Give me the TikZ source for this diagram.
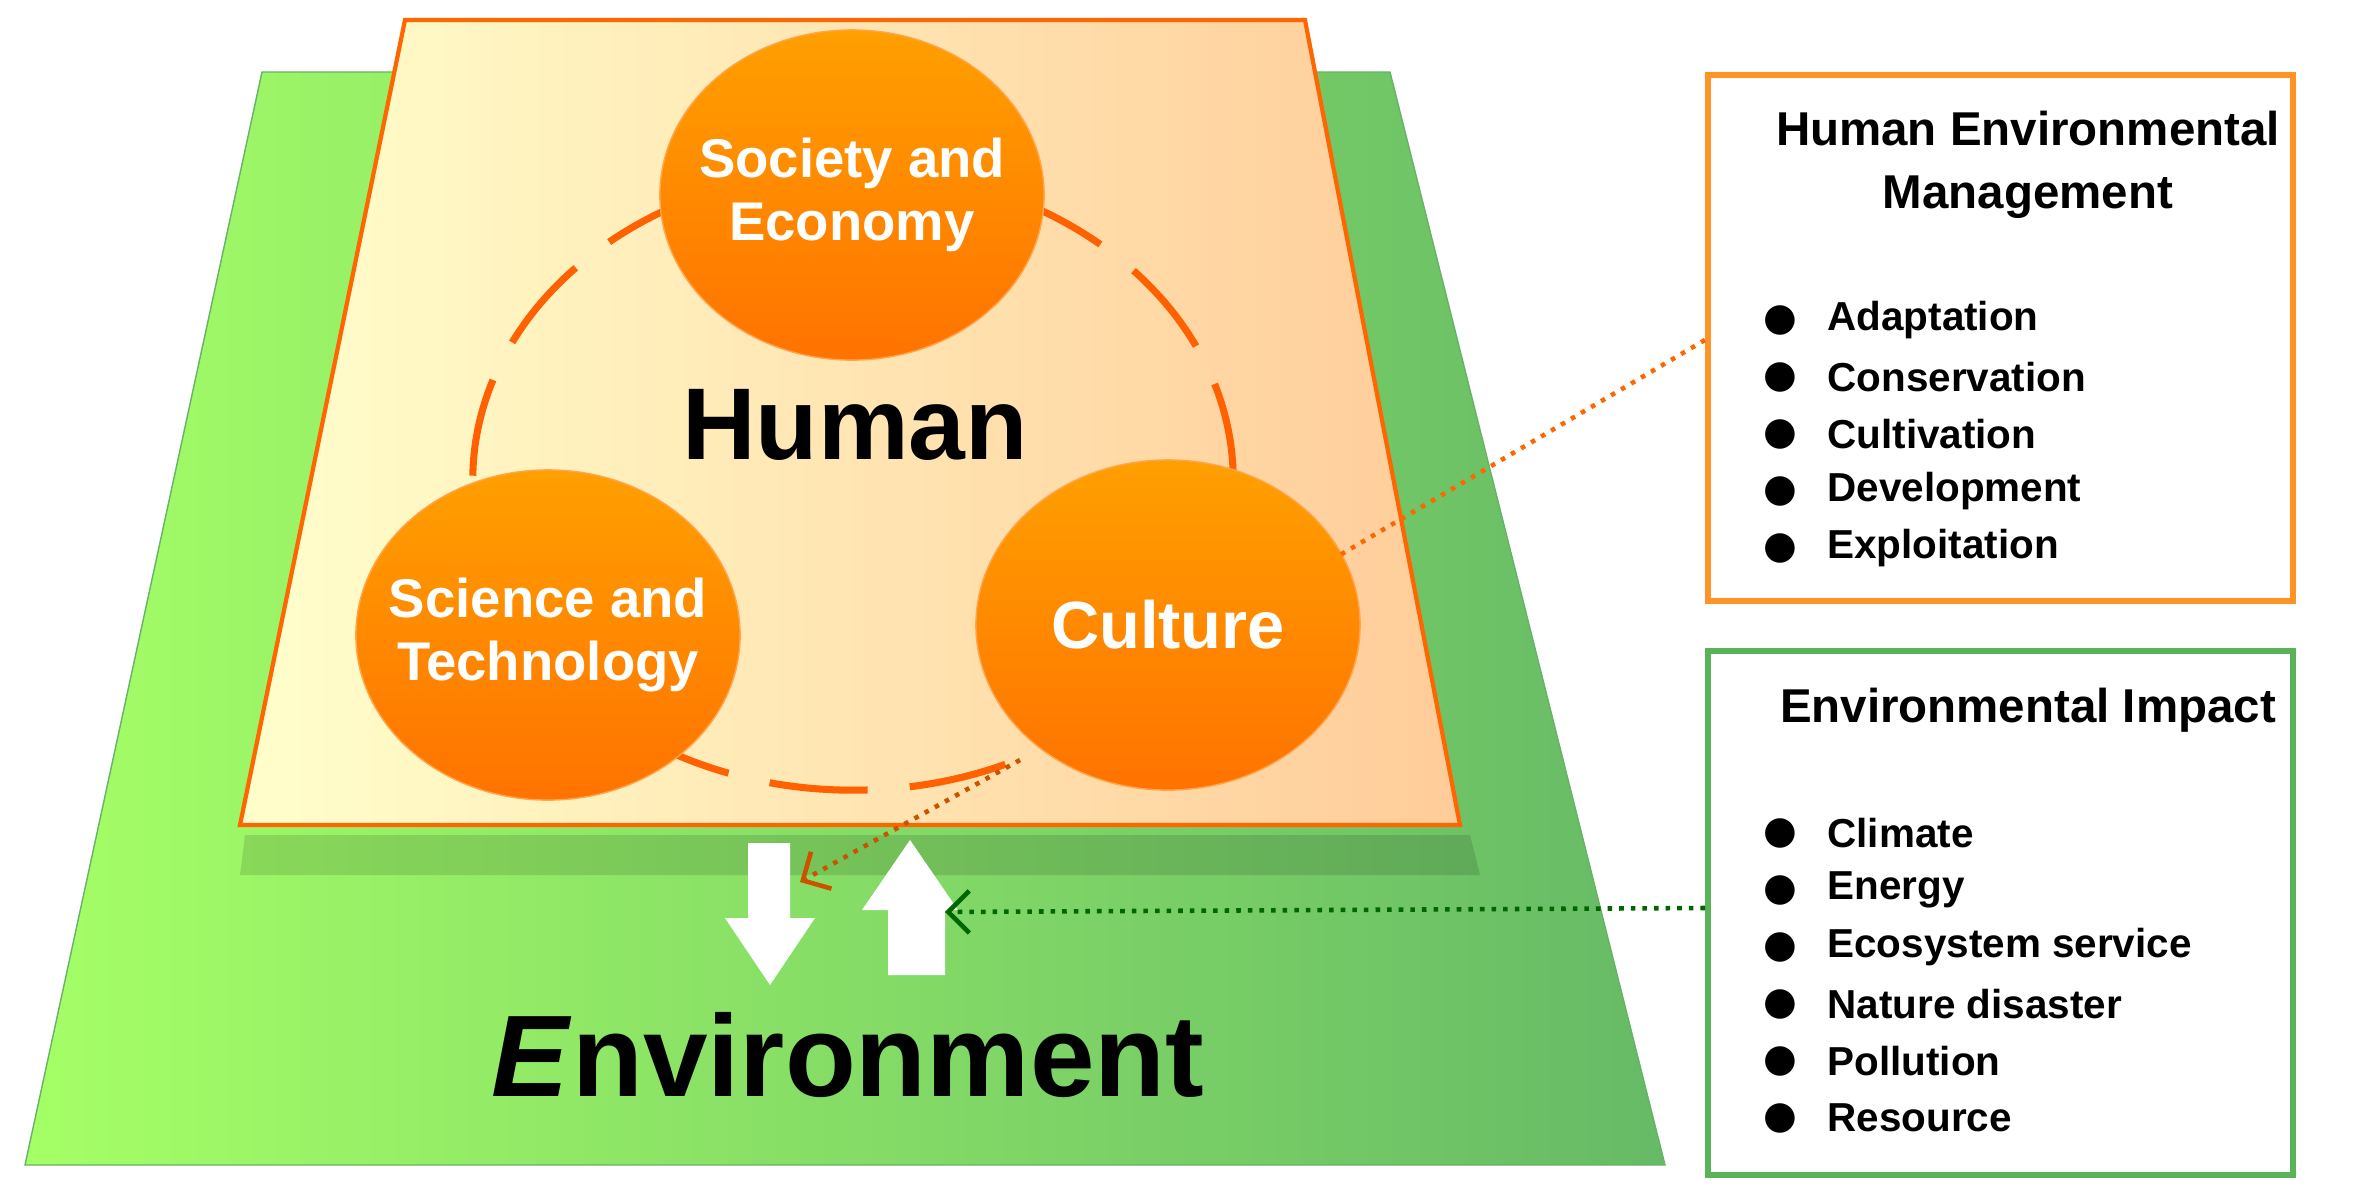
\documentclass[tikz,border=0pt]{standalone}
\usepackage{fontspec}
\setmainfont{Liberation Sans}
\newfontfamily\djv{DejaVu Sans}
\usetikzlibrary{shapes.geometric,arrows.meta}
\begin{document}
\begin{tikzpicture}[x=0.01cm,y=-0.01cm,
  circ/.style={ellipse,draw=orange!70,top color=orange!75!yellow,bottom color=orange!90!red,minimum width=3.84cm,minimum height=3.3cm,inner sep=0},
  ctext/.style={text=white,font=\fontsize{15.5}{18}\selectfont\bfseries,align=center},
  box/.style={draw,line width=1.6pt,fill=white},
  dot/.style={dotted,line width=1.3pt},
  item/.style={font=\fontsize{11.5}{13}\selectfont\bfseries,anchor=west}]
\useasboundingbox (0,0) rectangle (2359,1199);
\shade[left color=green!45!lime!60!white,right color=green!55!black!60,draw=green!50!black!60] (262,72) -- (1390,72) -- (1665,1165) -- (25,1165) -- cycle;
\fill[black,opacity=0.12] (245,835) -- (1470,835) -- (1480,875) -- (240,875) -- cycle;
\shade[left color=yellow!20,right color=orange!40,draw=orange!80!red,line width=1.2pt] (405,20) -- (1305,20) -- (1460,825) -- (240,825) -- cycle;
\draw[dash pattern=on 28pt off 12pt,line width=2pt,orange!75!red] (853,480) ellipse (3.8cm and 3.1cm);
\node[circ] (se) at (852,195) {};
\node[circ] (st) at (548,635) {};
\node[circ] (cu) at (1168,625) {};
\node[ctext] at (se) {Society and\\Economy};
\node[ctext] at (st) {Science and\\Technology};
\node[ctext,font=\fontsize{19}{20}\selectfont\bfseries] at (cu) {Culture};
\node[font=\fontsize{29}{30}\selectfont\bfseries] (hu) at (855,425) {Human};
\node[font=\fontsize{33}{34}\selectfont\bfseries] (en) at (848,1055) {\textit{E}nvironment};
\fill[white] (748,843) -- (790,843) -- (790,918) -- (815,918) -- (770,985) -- (725,918) -- (748,918) -- cycle;
\fill[white] (888,975) -- (945,975) -- (945,910) -- (958,910) -- (910,840) -- (862,910) -- (888,910) -- cycle;
\coordinate (da) at (800,882);
\coordinate (ua) at (945,912);
\node[box,draw=orange!85,minimum width=5.85cm,minimum height=5.26cm,anchor=north west] (b1) at (1705,72) {};
\node[box,draw=green!55!black!65,minimum width=5.85cm,minimum height=5.24cm,anchor=north west] (b2) at (1705,648) {};
\node[font=\fontsize{13.5}{18}\selectfont\bfseries,align=center] (t1) at (2028,165) {Human Environmental\\Management};
\node[font=\fontsize{13.5}{16}\selectfont\bfseries] (t2) at (2028,710) {Environmental Impact};
\foreach \t [count=\i] in {Adaptation,Conservation,Cultivation,Development,Exploitation}{
  \node[item] (a\i) at (1815,320+\i*57-57) {\t};
  \node[font=\djv\fontsize{11}{13}\selectfont] at (1780,320+\i*57-57) {●};}
\foreach \t [count=\i] in {Climate,Energy,Ecosystem service,Nature disaster,Pollution,Resource}{
  \node[item] (c\i) at (1815,833+\i*57-57) {\t};
  \node[font=\djv\fontsize{11}{13}\selectfont] at (1780,833+\i*57-57) {●};}
\coordinate (p1) at (1705,340);
\coordinate (p2) at (1340,555);
\coordinate (p3) at (1020,760);
\draw[dot,orange!80!red] (p1) -- (p2);
\draw[dot,orange!80!red!80!black,-{Straight Barb[length=6pt]}] (p3) -- (da);
\coordinate (q1) at (1705,908);
\draw[dot,green!40!black,-{Straight Barb[length=6pt]}] (q1) -- (ua);
\end{tikzpicture}
\end{document}
